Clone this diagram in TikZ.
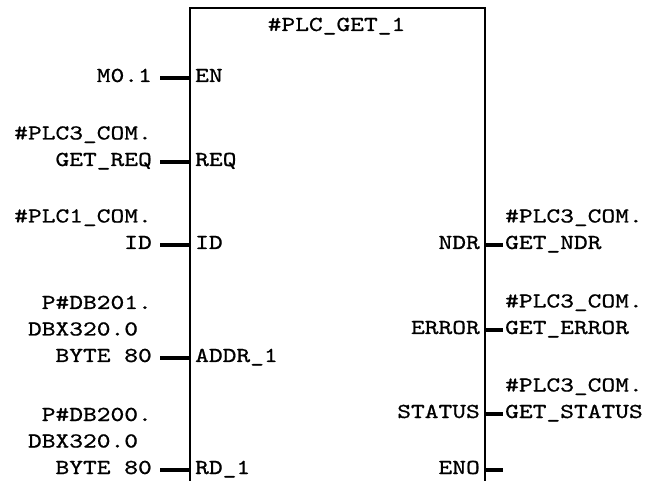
\documentclass[tikz,border=0pt]{standalone}
\usepackage{fontspec}
\newfontfamily\plcfont{lmmono10-regular.otf}[FakeStretch=1.23,FakeBold=0.8]
\usetikzlibrary{positioning}
\tikzset{
  plc/.style={
    font=\plcfont\fontsize{21.3}{26.5}\selectfont,
    inner sep=0pt
  },
  fbox/.style={
    rectangle,
    draw,
    line width=1.6pt,
    anchor=north west,
    minimum width=295pt,
    minimum height=500pt,
    inner sep=0pt
  },
  pinin/.style={plc, anchor=base west, xshift=6pt},
  pinout/.style={plc, anchor=base east, xshift=-4pt},
  extin/.style={plc, anchor=base east, align=right},
  extout/.style={plc, anchor=base west, align=left},
  wire/.style={line width=3.5pt}
}

\begin{document}
\begin{tikzpicture}[x=1pt,y=-1pt]
\useasboundingbox[fill=white] (0,0) rectangle (646,481);

% function block
\node[fbox] (fb) at (189,7) {};
\node[plc, anchor=base] (title) at (336.5,31) {\#PLC\_GET\_1};

% inputs
\node[pinin] (pEN) at (189,82) {EN};
\node[pinin] (pREQ) at (189,166) {REQ};
\node[pinin] (pID) at (189,249) {ID};
\node[pinin] (pADDR) at (189,362) {ADDR\_1};
\node[pinin] (pRD) at (189,474) {RD\_1};

\coordinate (cEN) at (160,78);
\coordinate (cREQ) at (160,162);
\coordinate (cID) at (160,245);
\coordinate (cADDR) at (160,358);
\coordinate (cRD) at (160,470);
\foreach \p in {EN,REQ,ID,ADDR,RD}
  \draw[wire] (c\p) -- (c\p -| fb.west);

\node[extin] (mEN) at (152,82) {M0.1};
\node[extin] (mREQ) at (152,166) {\#PLC3\_COM.\\GET\_REQ};
\node[extin] (mID) at (152,249) {\#PLC1\_COM.\\ID};
\node[extin] (mADDR) at (152,362) {P\#DB201.\\DBX320.0\hphantom{0}\\BYTE 80};
\node[extin] (mRD) at (152,474) {P\#DB200.\\DBX320.0\hphantom{0}\\BYTE 80};

% outputs
\node[pinout] (pNDR) at (484,249) {NDR};
\node[pinout] (pERR) at (484,334) {ERROR};
\node[pinout] (pSTAT) at (484,418) {STATUS};
\node[pinout] (pENO) at (484,474) {ENO};

\coordinate (cNDR) at (503,245);
\coordinate (cERR) at (503,330);
\coordinate (cSTAT) at (503,414);
\coordinate (cENO) at (503,470);
\foreach \p in {NDR,ERR,STAT,ENO}
  \draw[wire] (c\p -| fb.east) -- (c\p);

\node[extout] (mNDR) at (505,249) {\#PLC3\_COM.\\GET\_NDR};
\node[extout] (mERR) at (505,334) {\#PLC3\_COM.\\GET\_ERROR};
\node[extout] (mSTAT) at (505,418) {\#PLC3\_COM.\\GET\_STATUS};
\end{tikzpicture}
\end{document}
